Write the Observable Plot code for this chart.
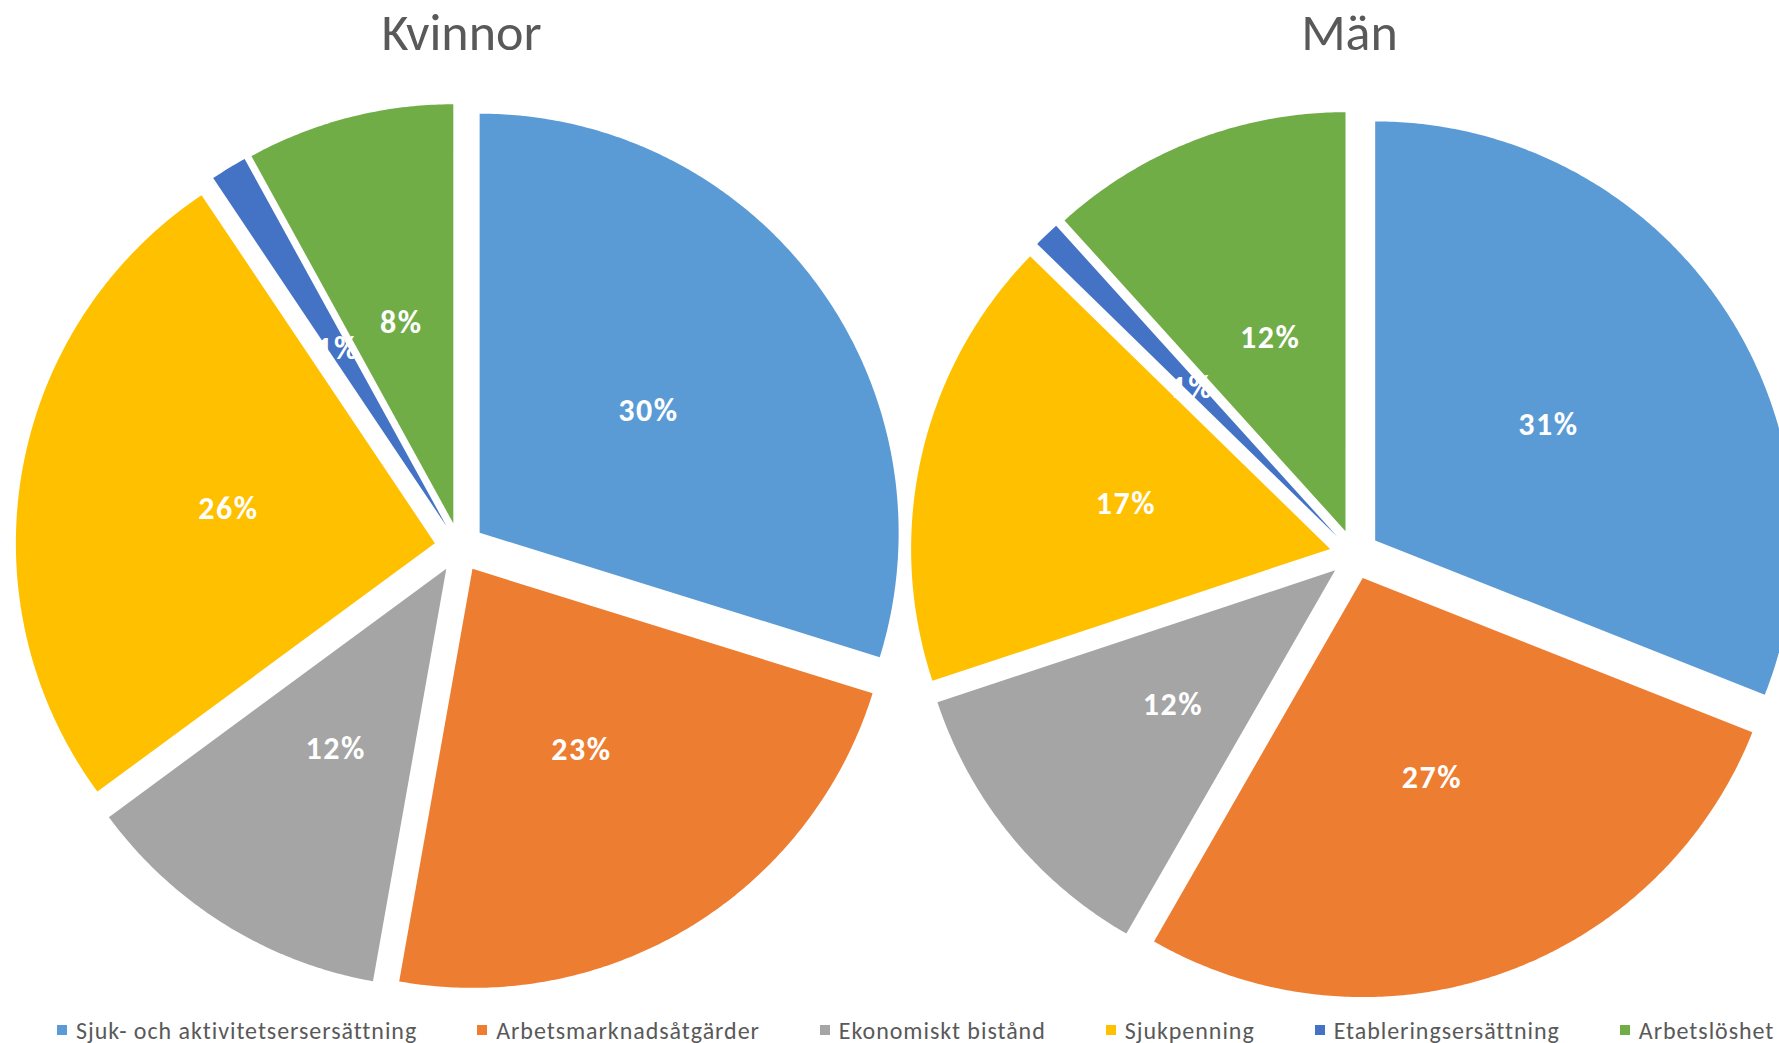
<!DOCTYPE html>
<html>
<head>
<meta charset="utf-8">
<script src="https://cdn.jsdelivr.net/npm/d3@7"></script>
<script src="https://cdn.jsdelivr.net/npm/@observablehq/plot@0.6"></script>
<style>
  html, body { margin: 0; padding: 0; background: #fff; overflow: hidden; }
  body { font-family: Carlito, Calibri, Lato, "Open Sans", sans-serif; }
  #legend { display: flex; gap: 60px; padding-left: 57px; height: 40px; align-items: center;
            white-space: nowrap; font-size: 24px; letter-spacing: 0.95px; color: #595959; }
  .item { display: flex; align-items: center; gap: 9px; }
  .sw { width: 10px; height: 10px; display: inline-block; }
</style>
</head>
<body>
<div id="chart"></div>
<div id="legend"></div>
<script>
// ---- data ----
const categories = ["Sjuk- och aktivitetsersersättning", "Arbetsmarknadsåtgärder", "Ekonomiskt bistånd", "Sjukpenning", "Etableringsersättning", "Arbetslöshet"];
const colors = ["#5B9BD5", "#ED7D31", "#A5A5A5", "#FFC000", "#4472C4", "#70AD47"];
const charts = ["Kvinnor", "Män"];
const kvinnor = [29.8, 23.0, 12.1, 25.7, 1.4, 8.0];
const man = [31.0, 27.3, 11.6, 17.4, 1.0, 11.7];
const seriesValues = [kvinnor, man];

// ---- layout ----
const W = 1779, H = 1010;
const layout = [
  {cx: 459, cy: 547, r: 419, d: 25, tx: 461},
  {cx: 1354, cy: 554, r: 419, d: 25, tx: 1349}
];

const polys = [], labels = [], titles = [];
charts.forEach((name, ci) => {
  const L = layout[ci];
  titles.push({x: L.tx, y: 49, text: name});
  const arcs = d3.pie().sort(null).value(v => v)(seriesValues[ci]);
  arcs.forEach((a, k) => {
    const s = a.startAngle, e = a.endAngle, mid = (s + e) / 2;
    const ox = L.cx + L.d * Math.sin(mid), oy = L.cy - L.d * Math.cos(mid);
    const key = name + "-" + k, cat = categories[k];
    polys.push({x: ox, y: oy, key, cat});
    const n = Math.max(4, Math.ceil((e - s) / (Math.PI / 360)));
    for (let j = 0; j <= n; j++) {
      const ang = s + (e - s) * j / n;
      polys.push({x: ox + L.r * Math.sin(ang), y: oy - L.r * Math.cos(ang), key, cat});
    }
    polys.push({x: ox, y: oy, key, cat});
    labels.push({x: ox + 0.5 * L.r * Math.sin(mid), y: oy - 0.5 * L.r * Math.cos(mid), text: Math.round(a.value) + "%"});
  });
});

const font = "Carlito, Calibri, Lato, 'Open Sans', sans-serif";
const plot = Plot.plot({
  width: W, height: H,
  margin: 0,
  x: {domain: [0, W], range: [0, W], axis: null},
  y: {domain: [0, H], range: [0, H], axis: null},
  color: {domain: categories, range: colors},
  style: {fontFamily: font, background: "#fff"},
  marks: [
    Plot.line(polys, {x: "x", y: "y", z: "key", fill: "cat", stroke: "none", curve: "linear"}),
    Plot.text(labels, {x: "x", y: "y", text: "text", fill: "#fff", fontSize: 32, fontWeight: "bold", lineAnchor: "middle", textAnchor: "middle", dy: 2}),
    Plot.text(titles, {x: "x", y: "y", text: "text", fill: "#595959", fontSize: 52, lineAnchor: "bottom", textAnchor: "middle"})
  ]
});
plot.querySelectorAll("text").forEach(t => {
  if (t.getAttribute("font-weight") === "bold" || (t.parentNode && t.parentNode.getAttribute("font-weight") === "bold")) t.setAttribute("letter-spacing", "1.5px");
});
document.getElementById("chart").appendChild(plot);

const leg = document.getElementById("legend");
categories.forEach((c, i) => {
  const it = document.createElement("div");
  it.className = "item";
  const sw = document.createElement("span");
  sw.className = "sw";
  sw.style.background = colors[i];
  const t = document.createElement("span");
  t.textContent = c;
  it.appendChild(sw); it.appendChild(t);
  leg.appendChild(it);
});
</script>
</body>
</html>
